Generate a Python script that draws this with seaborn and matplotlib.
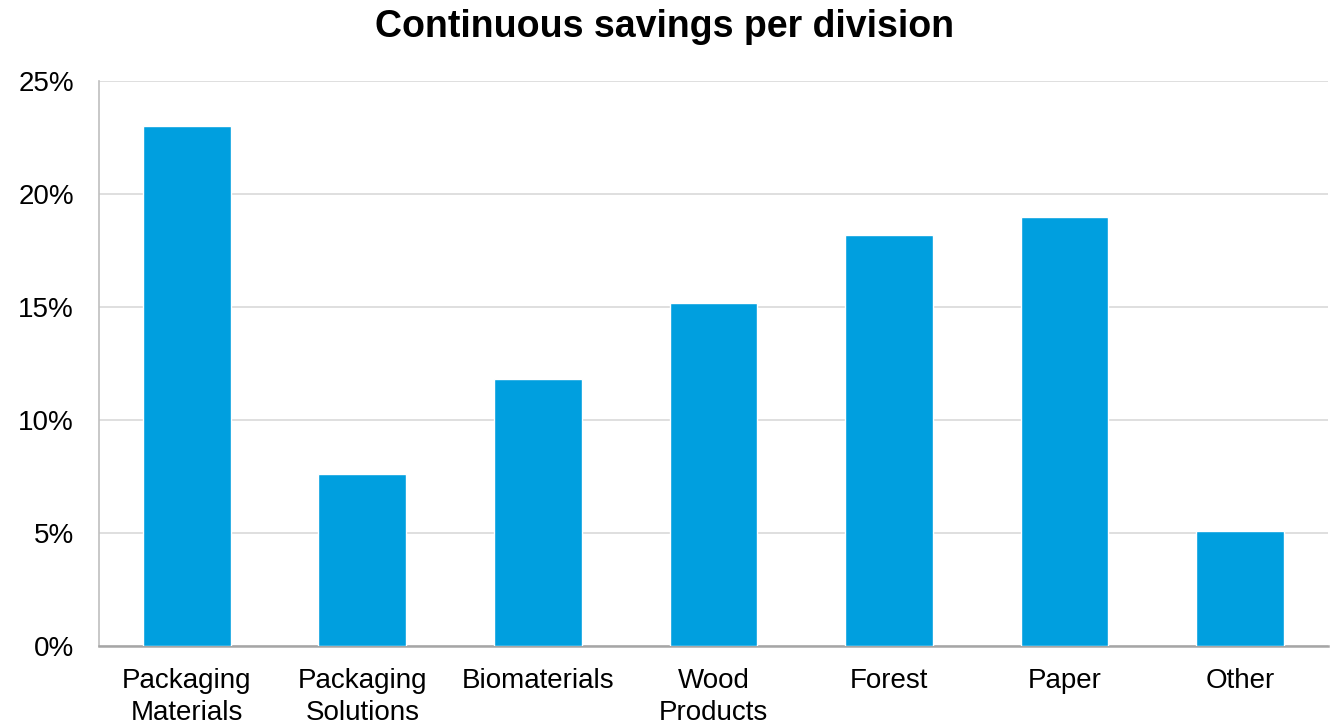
import matplotlib
matplotlib.use("Agg")
import matplotlib.pyplot as plt
import seaborn as sns
import pandas as pd
from matplotlib.ticker import PercentFormatter, MultipleLocator

divisions = ["Packaging\nMaterials", "Packaging\nSolutions", "Biomaterials",
             "Wood\nProducts", "Forest", "Paper", "Other"]
savings_pct = [23.0, 7.6, 11.8, 15.2, 18.2, 19.0, 5.1]

df = pd.DataFrame({"division": divisions, "savings": savings_pct})

sns.set_theme(style="white")
plt.rcParams["font.family"] = ["Liberation Sans", "DejaVu Sans"]

fig = plt.figure(figsize=(13.3, 7.24), dpi=100)
ax = fig.add_axes([0.0744, 0.108, 0.924, 0.7797])

sns.barplot(data=df, x="division", y="savings", color="#009FDF",
            saturation=1, width=0.5, ax=ax, zorder=3)

ax.set_ylim(0, 25)
ax.yaxis.set_major_locator(MultipleLocator(5))
ax.yaxis.set_major_formatter(PercentFormatter(decimals=0))
ax.grid(axis="y", color="#D9D9D9", linewidth=1.2, zorder=0)
ax.set_axisbelow(True)
ax.set_xlabel("")
ax.set_ylabel("")

for side in ["top", "right"]:
    ax.spines[side].set_visible(False)
ax.spines["left"].set_color("#BFBFBF")
ax.spines["left"].set_linewidth(1.2)
ax.spines["bottom"].set_color("#A6A6A6")
ax.spines["bottom"].set_linewidth(1.8)

ax.tick_params(axis="both", length=0, labelsize=20, colors="#000000")
ax.tick_params(axis="y", pad=18)
ax.tick_params(axis="x", pad=16)
for lbl in ax.get_xticklabels():
    lbl.set_linespacing(1.28)

fig.suptitle("Continuous savings per division", fontsize=27, fontweight="bold",
             color="#000000", x=0.5, y=0.988, va="top")

fig.savefig("out.png", dpi=100)
